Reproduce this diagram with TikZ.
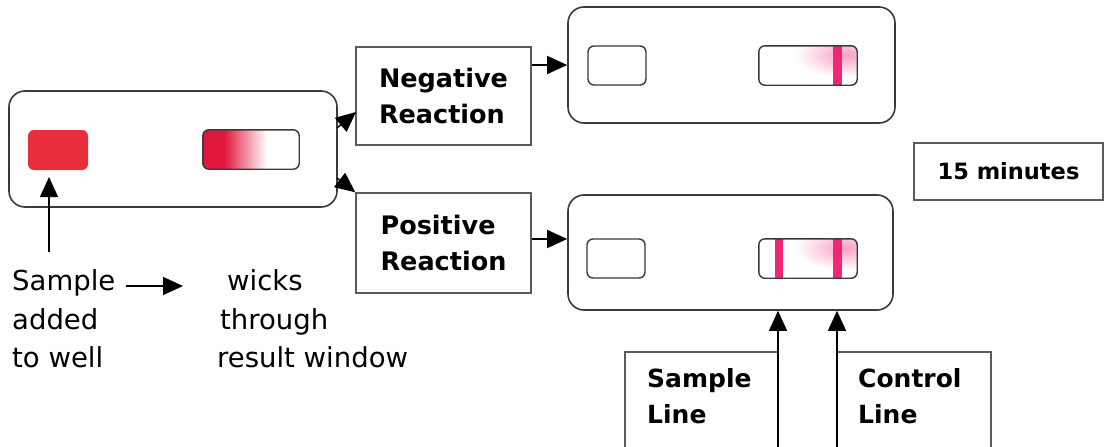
\documentclass[tikz,border=0pt]{standalone}
\usepackage{fontspec}
\setmainfont{DejaVu Sans}
\usetikzlibrary{arrows.meta}
\definecolor{wellred}{RGB}{232,46,58}
\definecolor{gradred}{RGB}{224,22,60}
\definecolor{lnmag}{RGB}{240,38,120}
\definecolor{edge}{RGB}{58,58,58}
\definecolor{boxedge}{RGB}{90,90,90}
\begin{document}
\begin{tikzpicture}[x=1pt,y=-1pt,
  cassette/.style={draw=edge, line width=1.6pt, rounded corners=16pt, inner sep=0pt},
  wellbox/.style={draw=edge, line width=1.4pt, rounded corners=6pt, inner sep=0pt},
  winframe/.style={draw=edge, line width=1.4pt, rounded corners=6pt},
  labelbox/.style={draw=boxedge, line width=1.4pt, inner sep=0pt, align=left,
    font=\bfseries\fontsize{25.5}{35.5}\selectfont},
  boldtxt/.style={inner sep=0pt, anchor=base west, font=\bfseries\fontsize{25}{30}\selectfont},
  plaintxt/.style={inner sep=0pt, anchor=base west, font=\fontsize{27.5}{33}\selectfont},
  boxline/.style={draw=boxedge, line width=1.4pt},
  arr/.style={-{Triangle[length=20pt,width=18pt]}, line width=1.4pt, draw=black},
  haze/.style={inner color=lnmag!45, outer color=white}
]
\useasboundingbox (0,0) rectangle (1111,447);
\fill[white] (0,0) rectangle (1111,447);

% left cassette
\node[cassette, minimum width=328pt, minimum height=116pt] (cassL) at (173,149) {};
\node[rounded corners=6pt, fill=wellred, inner sep=0pt, minimum width=60pt, minimum height=40pt] (wellL) at (58,150) {};
\node[inner sep=0pt, minimum width=96pt, minimum height=39pt] (winL) at (251,149.5) {};
\begin{scope}
  \clip[rounded corners=6pt] (winL.north west) rectangle (winL.south east);
  \fill[gradred] (winL.north west) rectangle ([xshift=22pt]winL.south west);
  \shade[left color=gradred, right color=white] ([xshift=21pt]winL.north west) rectangle ([xshift=64pt]winL.south west);
\end{scope}
\draw[winframe] (winL.north west) rectangle (winL.south east);

% reaction boxes
\node[labelbox, minimum width=175pt, minimum height=98pt] (neg) at (443.5,96) {Negative\\Reaction};
\node[labelbox, minimum width=175pt, minimum height=100pt] (pos) at (443.5,243) {Positive\\Reaction};

% negative cassette
\node[cassette, minimum width=327pt, minimum height=116pt] (cassN) at (731.5,65) {};
\node[wellbox, minimum width=58pt, minimum height=39pt] (wellN) at (617,65.5) {};
\node[inner sep=0pt, minimum width=98pt, minimum height=39pt] (winN) at (808,65.5) {};
\begin{scope}
  \clip[rounded corners=6pt] (winN.north west) rectangle (winN.south east);
  \shade[haze] (845,55) ellipse (50 and 22);
  \fill[lnmag] (833,40) rectangle (842,90);
\end{scope}
\draw[winframe] (winN.north west) rectangle (winN.south east);

% positive cassette
\node[cassette, minimum width=325pt, minimum height=115pt] (cassP) at (730.5,252.5) {};
\node[wellbox, minimum width=58pt, minimum height=39pt] (wellP) at (616,258.5) {};
\node[inner sep=0pt, minimum width=98pt, minimum height=39pt] (winP) at (808,258.5) {};
\begin{scope}
  \clip[rounded corners=6pt] (winP.north west) rectangle (winP.south east);
  \shade[haze] (845,248) ellipse (50 and 22);
  \fill[lnmag] (774.5,230) rectangle (782.5,290);
  \fill[lnmag] (833,230) rectangle (842,290);
\end{scope}
\draw[winframe] (winP.north west) rectangle (winP.south east);

% time box
\node[draw=boxedge, line width=1.4pt, minimum width=189pt, minimum height=57pt, inner sep=0pt,
  font=\bfseries\fontsize{22.5}{27}\selectfont] (time) at (1008.5,171.5) {15 minutes};

% connectors cassette -> reaction boxes -> cassettes
\coordinate (lt) at (337,128);
\coordinate (lb) at (337,178);
\draw[arr] (lt) -- (356,112);
\draw[arr] (lb) -- (pos.north west);
\draw[arr] (neg.east |- cassN.west) -- (cassN.west);
\draw[arr] (pos.east |- 0,239) -- (cassP.west |- 0,239);

% left texts
\node[plaintxt] (s1) at (12,290) {Sample};
\node[plaintxt] (s2) at (12,329) {added};
\node[plaintxt] (s3) at (12,367) {to well};
\node[plaintxt] (w1) at (227,290) {wicks};
\node[plaintxt] (w2) at (220,329) {through};
\node[plaintxt] (w3) at (217,367) {result window};
\coordinate (upL) at (49,252);
\draw[arr] (upL) -- (49,177);
\draw[arr] ([xshift=10pt,yshift=4pt]s1.base east) -- ([xshift=-44pt,yshift=4pt]w1.base west);

% sample / control line boxes
\node[boldtxt] (sl1) at (647,387) {Sample};
\node[boldtxt] (sl2) at (647,423) {Line};
\node[boldtxt] (cl1) at (858,387) {Control};
\node[boldtxt] (cl2) at (858,423) {Line};
\coordinate (sfoot) at (778,447);
\coordinate (cfoot) at (837,447);
\draw[boxline] (625,447) -- (625,352) -- (778,352);
\draw[boxline] (837,352) -- (991,352) -- (991,447);
\draw[arr] (sfoot) -- (sfoot |- cassP.south);
\draw[arr] (cfoot) -- (cfoot |- cassP.south);
\end{tikzpicture}
\end{document}
